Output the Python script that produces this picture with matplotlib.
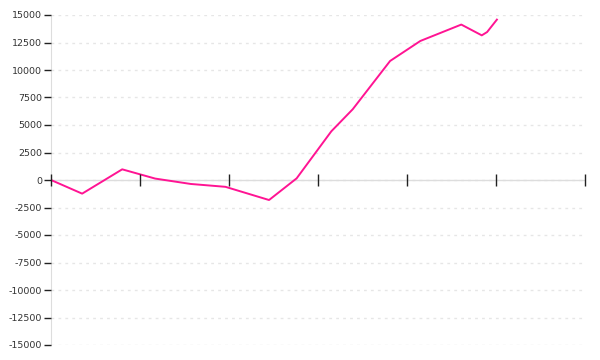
import matplotlib
matplotlib.use("Agg")
import matplotlib.pyplot as plt
import numpy as np

# values
x_vals = [0.0, 0.35, 0.80, 1.17, 1.57, 1.96, 2.45, 2.76, 3.15, 3.39, 3.81, 4.15, 4.61, 4.84, 4.90, 5.01]
y_vals = [0, -1240, 970, 130, -360, -620, -1820, 150, 4430, 6430, 10820, 12640, 14130, 13150, 13450, 14580]

y_ticks = np.arange(-15000, 15001, 2500)
x_ticks = np.arange(0, 7)

fig = plt.figure(figsize=(6, 3.6), dpi=100)
ax = fig.add_axes([51 / 600, 15 / 360, 534 / 600, 330 / 360])

ax.plot(x_vals, y_vals, color="#ff1493", linewidth=1.4, zorder=3)

ax.set_xlim(0, 6)
ax.set_ylim(-15000, 15000)
ax.set_yticks(y_ticks)
ax.set_yticklabels([str(v) for v in y_ticks])
ax.set_xticks(x_ticks)
ax.set_xticklabels([])

for v in y_ticks:
    ax.axhline(v, color="#e6e6e6", linewidth=1, linestyle=(0, (2, 3)), zorder=1)
ax.axhline(0, color="#dddddd", linewidth=1, zorder=2)

for s in ["top", "right", "bottom"]:
    ax.spines[s].set_visible(False)
ax.spines["left"].set_color("#dddddd")
ax.spines["left"].set_zorder(0.5)

ax.tick_params(axis="y", length=5, width=1, color="#222222", labelsize=6.8, labelcolor="#333333", pad=1.5)
ax.tick_params(axis="x", direction="inout", length=9, width=1, color="#222222")
ax.xaxis.set_zorder(4)
# put x ticks on the zero line
ax.spines["bottom"].set_position(("data", 0))

fig.savefig("out.png", dpi=100)
